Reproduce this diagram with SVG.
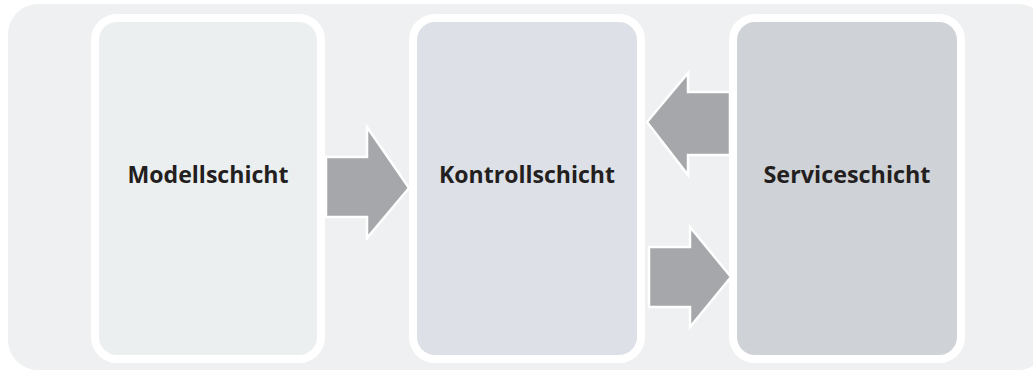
<svg xmlns="http://www.w3.org/2000/svg" width="1033" height="371" viewBox="0 0 1033 371">
  <style>
    .layer { stroke: #ffffff; stroke-width: 8; }
    .label { font-family: "Open Sans", "Liberation Sans", sans-serif; font-weight: 700; font-size: 23px; fill: #231f20; text-anchor: middle; }
    .arrow { fill: #a6a7aa; stroke: #ffffff; stroke-width: 2.5; stroke-linejoin: miter; }
  </style>
  <rect width="1033" height="371" fill="#ffffff"/>
  <!-- backdrop panel -->
  <rect x="8" y="4" width="1040" height="366" rx="30" fill="#eef0f1"/>

  <g id="modellschicht">
    <rect class="layer" x="95" y="18" width="226" height="341" rx="22" fill="#eceff0"/>
    <text class="label" x="208" y="183" textLength="161" lengthAdjust="spacingAndGlyphs">Modellschicht</text>
  </g>
  <g id="kontrollschicht">
    <rect class="layer" x="413" y="18" width="228" height="341" rx="22" fill="#dde1e7"/>
    <text class="label" x="527" y="183" textLength="176" lengthAdjust="spacingAndGlyphs">Kontrollschicht</text>
  </g>
  <g id="serviceschicht">
    <rect class="layer" x="733" y="18" width="228" height="341" rx="22" fill="#cfd2d6"/>
    <text class="label" x="847" y="183" textLength="167" lengthAdjust="spacingAndGlyphs">Serviceschicht</text>
  </g>

  <g id="connectors">
    <!-- Modellschicht to Kontrollschicht -->
    <polygon class="arrow" points="326,157 367,157 367,127 409,188 367,238 367,217 326,217"/>
    <!-- Serviceschicht to Kontrollschicht -->
    <polygon class="arrow" points="730,92 688,92 688,73 647,122 688,175 688,155 730,155"/>
    <!-- Kontrollschicht to Serviceschicht -->
    <polygon class="arrow" points="649,247 690,247 690,227 731,277 690,327 690,307 649,307"/>
  </g>
</svg>
